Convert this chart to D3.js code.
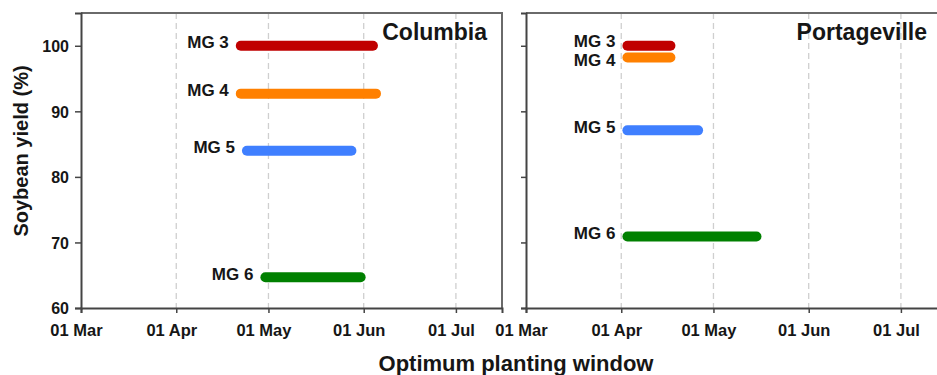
<!DOCTYPE html>
<html>
<head>
<meta charset="utf-8">
<script src="https://cdn.jsdelivr.net/npm/d3@7"></script>
<style>
  html, body { margin: 0; padding: 0; background: #ffffff; }
  svg { display: block; }
  text { font-family: "Liberation Sans", Arial, sans-serif; font-weight: bold; fill: #161616; }
</style>
</head>
<body>
<svg id="chart" width="937" height="375"></svg>
<script>
// ---------------- data ----------------
const groups = ["MG 3", "MG 4", "MG 5", "MG 6"];
const groupColors = ["#c00000", "#ff8000", "#3f7fff", "#008000"];
const tickDates = ["2021-03-01", "2021-04-01", "2021-05-01", "2021-06-01", "2021-07-01"];
const tickLabels = ["01 Mar", "01 Apr", "01 May", "01 Jun", "01 Jul"];
const yTicks = [60, 70, 80, 90, 100];

const columbiaStart = ["2021-04-22", "2021-04-22", "2021-04-24", "2021-04-30"];
const columbiaEnd   = ["2021-06-04", "2021-06-05", "2021-05-28", "2021-05-31"];
const columbiaYield = [100, 92.7, 84.0, 64.7];

const portStart = ["2021-04-03", "2021-04-03", "2021-04-03", "2021-04-03"];
const portEnd   = ["2021-04-17", "2021-04-17", "2021-04-26", "2021-05-15"];
const portYield = [100, 98.2, 87.1, 70.9];

const sites = ["Columbia", "Portageville"];

// ---------------- layout ----------------
const parse = d3.utcParse("%Y-%m-%d");
const svg = d3.select("#chart");
const plotTop = 13, plotBottom = 308;
const panels = [
  { name: sites[0], x0: 81,  x1: 502, titleX: 487, start: columbiaStart, end: columbiaEnd, val: columbiaYield, labels: true },
  { name: sites[1], x0: 526, x1: 947, titleX: 927, start: portStart, end: portEnd, val: portYield, labels: false }
];
const y = d3.scaleLinear().domain([60, 105]).range([plotBottom, plotTop]);

panels.forEach(p => {
  const x = d3.scaleUtc().domain([parse("2021-03-01"), parse("2021-07-16")]).range([p.x0, p.x1]);
  const g = svg.append("g");

  // grid lines
  g.selectAll("line.grid").data(tickDates.slice(1)).enter().append("line")
    .attr("class", "grid")
    .attr("x1", d => x(parse(d))).attr("x2", d => x(parse(d)))
    .attr("y1", plotTop).attr("y2", plotBottom)
    .attr("stroke", "#cfcfcf").attr("stroke-width", 1.3).attr("stroke-dasharray", "6,4");

  // frame top & right
  g.append("path")
    .attr("d", `M${p.x0},${plotTop}H${p.x1}V${plotBottom}`)
    .attr("fill", "none").attr("stroke", "#6a6a6a").attr("stroke-width", 2);

  // x axis
  const xa = g.append("g").attr("transform", `translate(0,${plotBottom})`)
    .call(d3.axisBottom(x).tickValues(tickDates.map(parse)).tickSizeOuter(0).tickSize(5)
      .tickFormat((d, i) => tickLabels[i]));
  xa.select(".domain").attr("stroke", "#444").attr("stroke-width", 2);
  xa.selectAll(".tick line").attr("stroke", "#444").attr("stroke-width", 1.5);
  xa.selectAll(".tick text").attr("y", 28).attr("dy", 0).attr("dx", -5)
    .style("font-size", "16.5px").attr("fill", "#161616");

  // y axis
  const ya = g.append("g").attr("transform", `translate(${p.x0},0)`)
    .call(d3.axisLeft(y).tickValues(yTicks).tickSizeOuter(0).tickSize(p.labels ? 6 : 5).tickPadding(6)
      .tickFormat(d => p.labels ? d : ""));
  ya.select(".domain").attr("stroke", "#444").attr("stroke-width", 2);
  ya.selectAll(".tick line").attr("stroke", "#444").attr("stroke-width", 1.5);
  ya.selectAll(".tick text").style("font-size", "16px").attr("fill", "#161616").attr("dy", "0.36em");

  // bars
  const data = groups.map((gname, i) => ({
    name: gname, color: groupColors[i],
    s: parse(p.start[i]), e: parse(p.end[i]), v: p.val[i]
  }));
  g.selectAll("line.bar").data(data).enter().append("line")
    .attr("class", "bar")
    .attr("x1", d => x(d.s)).attr("x2", d => x(d.e))
    .attr("y1", d => y(d.v)).attr("y2", d => y(d.v))
    .attr("stroke", d => d.color).attr("stroke-width", 10).attr("stroke-linecap", "round");

  // labels with collision nudge (keep close labels from overlapping)
  const minGap = 19.5;
  const bases = data.map(d => y(d.v) + 2.5);
  for (let i = 1; i < bases.length; i++) {
    const diff = bases[i] - bases[i - 1];
    if (diff < minGap) {
      const need = minGap - diff;
      bases[i - 1] -= need * 0.2;
      bases[i] += need * 0.8;
    }
  }
  data.forEach((d, i) => {
    g.append("text")
      .attr("x", x(d.s) - 12).attr("y", bases[i])
      .attr("text-anchor", "end").style("font-size", "17px")
      .text(d.name);
  });

  // site title
  g.append("text")
    .attr("x", p.titleX).attr("y", 40)
    .attr("text-anchor", "end").style("font-size", "23px")
    .text(p.name);
});

// axis titles
svg.append("text")
  .attr("x", 516).attr("y", 371).attr("text-anchor", "middle")
  .style("font-size", "22px").text("Optimum planting window");
svg.append("text")
  .attr("transform", "translate(28,151) rotate(-90)").attr("text-anchor", "middle")
  .style("font-size", "20px").text("Soybean yield (%)");
</script>
</body>
</html>
